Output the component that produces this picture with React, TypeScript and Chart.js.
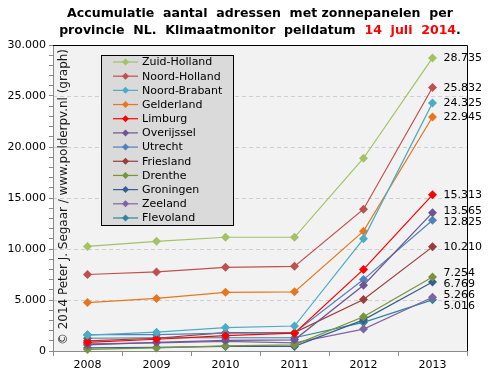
import React, { useEffect, useRef } from 'react';
import { Chart, registerables } from 'chart.js';

Chart.register(...registerables);

const FONT = '"DejaVu Sans", Verdana, sans-serif';

const years = ['2008', '2009', '2010', '2011', '2012', '2013'];

const provinces = [
  'Zuid-Holland', 'Noord-Holland', 'Noord-Brabant', 'Gelderland', 'Limburg', 'Overijssel',
  'Utrecht', 'Friesland', 'Drenthe', 'Groningen', 'Zeeland', 'Flevoland',
];

const zuidHolland = [10250, 10750, 11150, 11150, 18900, 28735];
const noordHolland = [7500, 7750, 8200, 8300, 13900, 25832];
const noordBrabant = [1550, 1850, 2300, 2450, 11000, 24325];
const gelderland = [4750, 5150, 5750, 5800, 11750, 22945];
const limburg = [850, 1150, 1500, 1750, 8000, 15313];
const overijssel = [600, 850, 1050, 1100, 6450, 13565];
const utrecht = [1600, 1600, 1750, 1800, 7000, 12825];
const friesland = [1000, 1250, 1800, 1800, 5050, 10210];
const drenthe = [150, 300, 500, 600, 3350, 7254];
const groningen = [300, 350, 450, 450, 3050, 6769];
const zeeland = [700, 800, 950, 800, 2150, 5266];
const flevoland = [1250, 1300, 1300, 1300, 2800, 5016];

const seriesValues = [
  zuidHolland, noordHolland, noordBrabant, gelderland, limburg, overijssel,
  utrecht, friesland, drenthe, groningen, zeeland, flevoland,
];

const seriesColors = [
  '#A3C265', '#C0504D', '#4BACC6', '#E8761C', '#FF0000', '#6E5494',
  '#4F81BD', '#9B3D3A', '#77933C', '#365F91', '#8064A2', '#31859C',
];

const yMax = 30000;
const yMajorStep = 5000;
const yMinorStep = 1000;

const titleLine1 = 'Accumulatie  aantal  adressen  met zonnepanelen  per';
const titleLine2a = 'provincie  NL.  Klimaatmonitor  peildatum  ';
const titleLine2b = '14  juli  2014';
const titleLine2c = '.';
const watermark = '\u00A9 2014 Peter J. Segaar / www.polderpv.nl (graph)';

const fmt = (v: number) => String(Math.round(v)).replace(/\B(?=(\d{3})+(?!\d))/g, '.');

function diamond(ctx: CanvasRenderingContext2D, x: number, y: number, r: number, color: string) {
  ctx.beginPath();
  ctx.moveTo(x, y - r);
  ctx.lineTo(x + r, y);
  ctx.lineTo(x, y + r);
  ctx.lineTo(x - r, y);
  ctx.closePath();
  ctx.fillStyle = color;
  ctx.fill();
}

const decor = {
  id: 'decor',
  beforeDraw(chart: any) {
    const { ctx, chartArea: a } = chart;
    ctx.save();
    ctx.fillStyle = '#ffffff';
    ctx.fillRect(0, 0, chart.width, chart.height);
    ctx.fillStyle = '#f2f2f2';
    ctx.fillRect(a.left, a.top, a.right - a.left, a.bottom - a.top);
    const ys = chart.scales.y;
    ctx.strokeStyle = '#cfcfcf';
    ctx.lineWidth = 1;
    ctx.setLineDash([4, 3]);
    for (let v = yMajorStep; v < yMax; v += yMajorStep) {
      const py = Math.round(ys.getPixelForValue(v)) + 0.5;
      ctx.beginPath();
      ctx.moveTo(a.left, py);
      ctx.lineTo(a.right, py);
      ctx.stroke();
    }
    ctx.restore();
  },
  afterDraw(chart: any) {
    const { ctx, chartArea: a } = chart;
    const xs = chart.scales.x;
    const ys = chart.scales.y;
    ctx.save();

    // frame top / right
    ctx.strokeStyle = '#000';
    ctx.lineWidth = 1;
    ctx.beginPath();
    ctx.moveTo(a.left, Math.round(a.top) + 0.5);
    ctx.lineTo(Math.round(a.right) + 0.5, Math.round(a.top) + 0.5);
    ctx.lineTo(Math.round(a.right) + 0.5, a.bottom);
    ctx.stroke();

    // watermark
    ctx.save();
    ctx.translate(a.left + 11, a.bottom - 6);
    ctx.rotate(-Math.PI / 2);
    ctx.font = `11px ${FONT}`;
    const wm = ctx.measureText(watermark).width;
    const wmSize = 11 * 296 / wm;
    ctx.font = `${wmSize.toFixed(2)}px ${FONT}`;
    ctx.fillStyle = '#1a1a1a';
    ctx.textAlign = 'left';
    ctx.textBaseline = 'middle';
    ctx.fillText(watermark, 0, 0);
    ctx.restore();

    // legend box
    const lx = 101, ly = 55, lw = 132, lh = 170;
    ctx.fillStyle = '#dadada';
    ctx.fillRect(lx, ly, lw, lh);
    ctx.strokeStyle = '#000';
    ctx.strokeRect(lx + 0.5, ly + 0.5, lw, lh);
    ctx.font = `11px ${FONT}`;
    ctx.textAlign = 'left';
    ctx.textBaseline = 'middle';
    chart.data.datasets.forEach((ds: any, i: number) => {
      const cy = ly + 7 + i * 14.18;
      ctx.strokeStyle = ds.borderColor;
      ctx.lineWidth = 1.2;
      ctx.beginPath();
      ctx.moveTo(lx + 12, cy);
      ctx.lineTo(lx + 37, cy);
      ctx.stroke();
      diamond(ctx, lx + 24.5, cy, 3.5, ds.borderColor);
      ctx.fillStyle = '#000';
      ctx.fillText(ds.label, lx + 41, cy + 0.5);
    });

    // end labels
    const lastIdx = years.length - 1;
    const px = xs.getPixelForValue(lastIdx) + 11;
    const items = chart.data.datasets.map((ds: any) => ({
      y: ys.getPixelForValue(ds.data[lastIdx]),
      text: fmt(ds.data[lastIdx]),
    }));
    items.sort((p: any, q: any) => p.y - q.y);
    const gapMin = 11;
    for (let it = 0; it < 300; it++) {
      for (let j = 0; j < items.length - 1; j++) {
        const gap = items[j + 1].y - items[j].y;
        if (gap < gapMin) {
          const d = (gapMin - gap) / 2;
          items[j].y -= d;
          items[j + 1].y += d;
        }
      }
    }
    ctx.fillStyle = '#000';
    ctx.font = `11px ${FONT}`;
    items.forEach((p: any) => ctx.fillText(p.text, px, p.y + 0.5));

    // title
    ctx.textBaseline = 'middle';
    ctx.font = `bold 13px ${FONT}`;
    const w1 = ctx.measureText(titleLine1).width;
    const tSize = 13 * 386 / w1;
    ctx.font = `bold ${tSize.toFixed(2)}px ${FONT}`;
    const cx = 260;
    ctx.fillStyle = '#000';
    ctx.textAlign = 'center';
    ctx.fillText(titleLine1, cx, 14);
    ctx.textAlign = 'left';
    const wa = ctx.measureText(titleLine2a).width;
    const wb = ctx.measureText(titleLine2b).width;
    const wc = ctx.measureText(titleLine2c).width;
    let tx = cx - (wa + wb + wc) / 2;
    ctx.fillText(titleLine2a, tx, 31);
    tx += wa;
    ctx.fillStyle = '#ff0000';
    ctx.fillText(titleLine2b, tx, 31);
    tx += wb;
    ctx.fillStyle = '#000';
    ctx.fillText(titleLine2c, tx, 31);

    ctx.restore();
  },
};

export default function App() {
  const ref = useRef<HTMLCanvasElement | null>(null);
  useEffect(() => {
    if (!ref.current) return;
    const chart = new Chart(ref.current, {
      type: 'line',
      data: {
        labels: years,
        datasets: provinces.map((p, i) => ({
          label: p,
          data: seriesValues[i],
          borderColor: seriesColors[i],
          backgroundColor: seriesColors[i],
          pointBackgroundColor: seriesColors[i],
          pointBorderColor: seriesColors[i],
          pointStyle: 'rectRot',
          pointRadius: 4.5,
          pointBorderWidth: 0,
          borderWidth: 1.2,
          tension: 0,
          clip: false,
        })),
      },
      options: {
        animation: false,
        responsive: false,
        layout: { padding: { top: 45, right: 24, left: 0, bottom: 0 } },
        plugins: { legend: { display: false }, tooltip: { enabled: false }, title: { display: false } },
        scales: {
          x: {
            type: 'category',
            offset: true,
            grid: { offset: true, drawOnChartArea: false, tickLength: 5, tickColor: '#8a8a8a' },
            border: { color: '#8a8a8a' },
            ticks: { font: { family: FONT, size: 11 }, color: '#000', padding: 3, maxRotation: 0 },
            afterFit: (s: any) => { s.height = 27; },
          },
          y: {
            min: 0,
            max: yMax,
            ticks: {
              stepSize: yMinorStep,
              autoSkip: false,
              font: { family: FONT, size: 11 },
              color: '#000',
              padding: 3,
              callback: (v: any) => (Number(v) % yMajorStep === 0 ? fmt(Number(v)) : ''),
            },
            grid: { drawOnChartArea: false, tickLength: 4, tickColor: '#8a8a8a' },
            border: { color: '#8a8a8a' },
            afterFit: (s: any) => { s.width = 53; },
          },
        },
      } as any,
      plugins: [decor],
    });
    return () => chart.destroy();
  }, []);
  return (
    <div style={{ position: 'absolute', left: 0, top: 0, width: 491, height: 378 }}>
      <canvas ref={ref} width={491} height={378} />
    </div>
  );
}
